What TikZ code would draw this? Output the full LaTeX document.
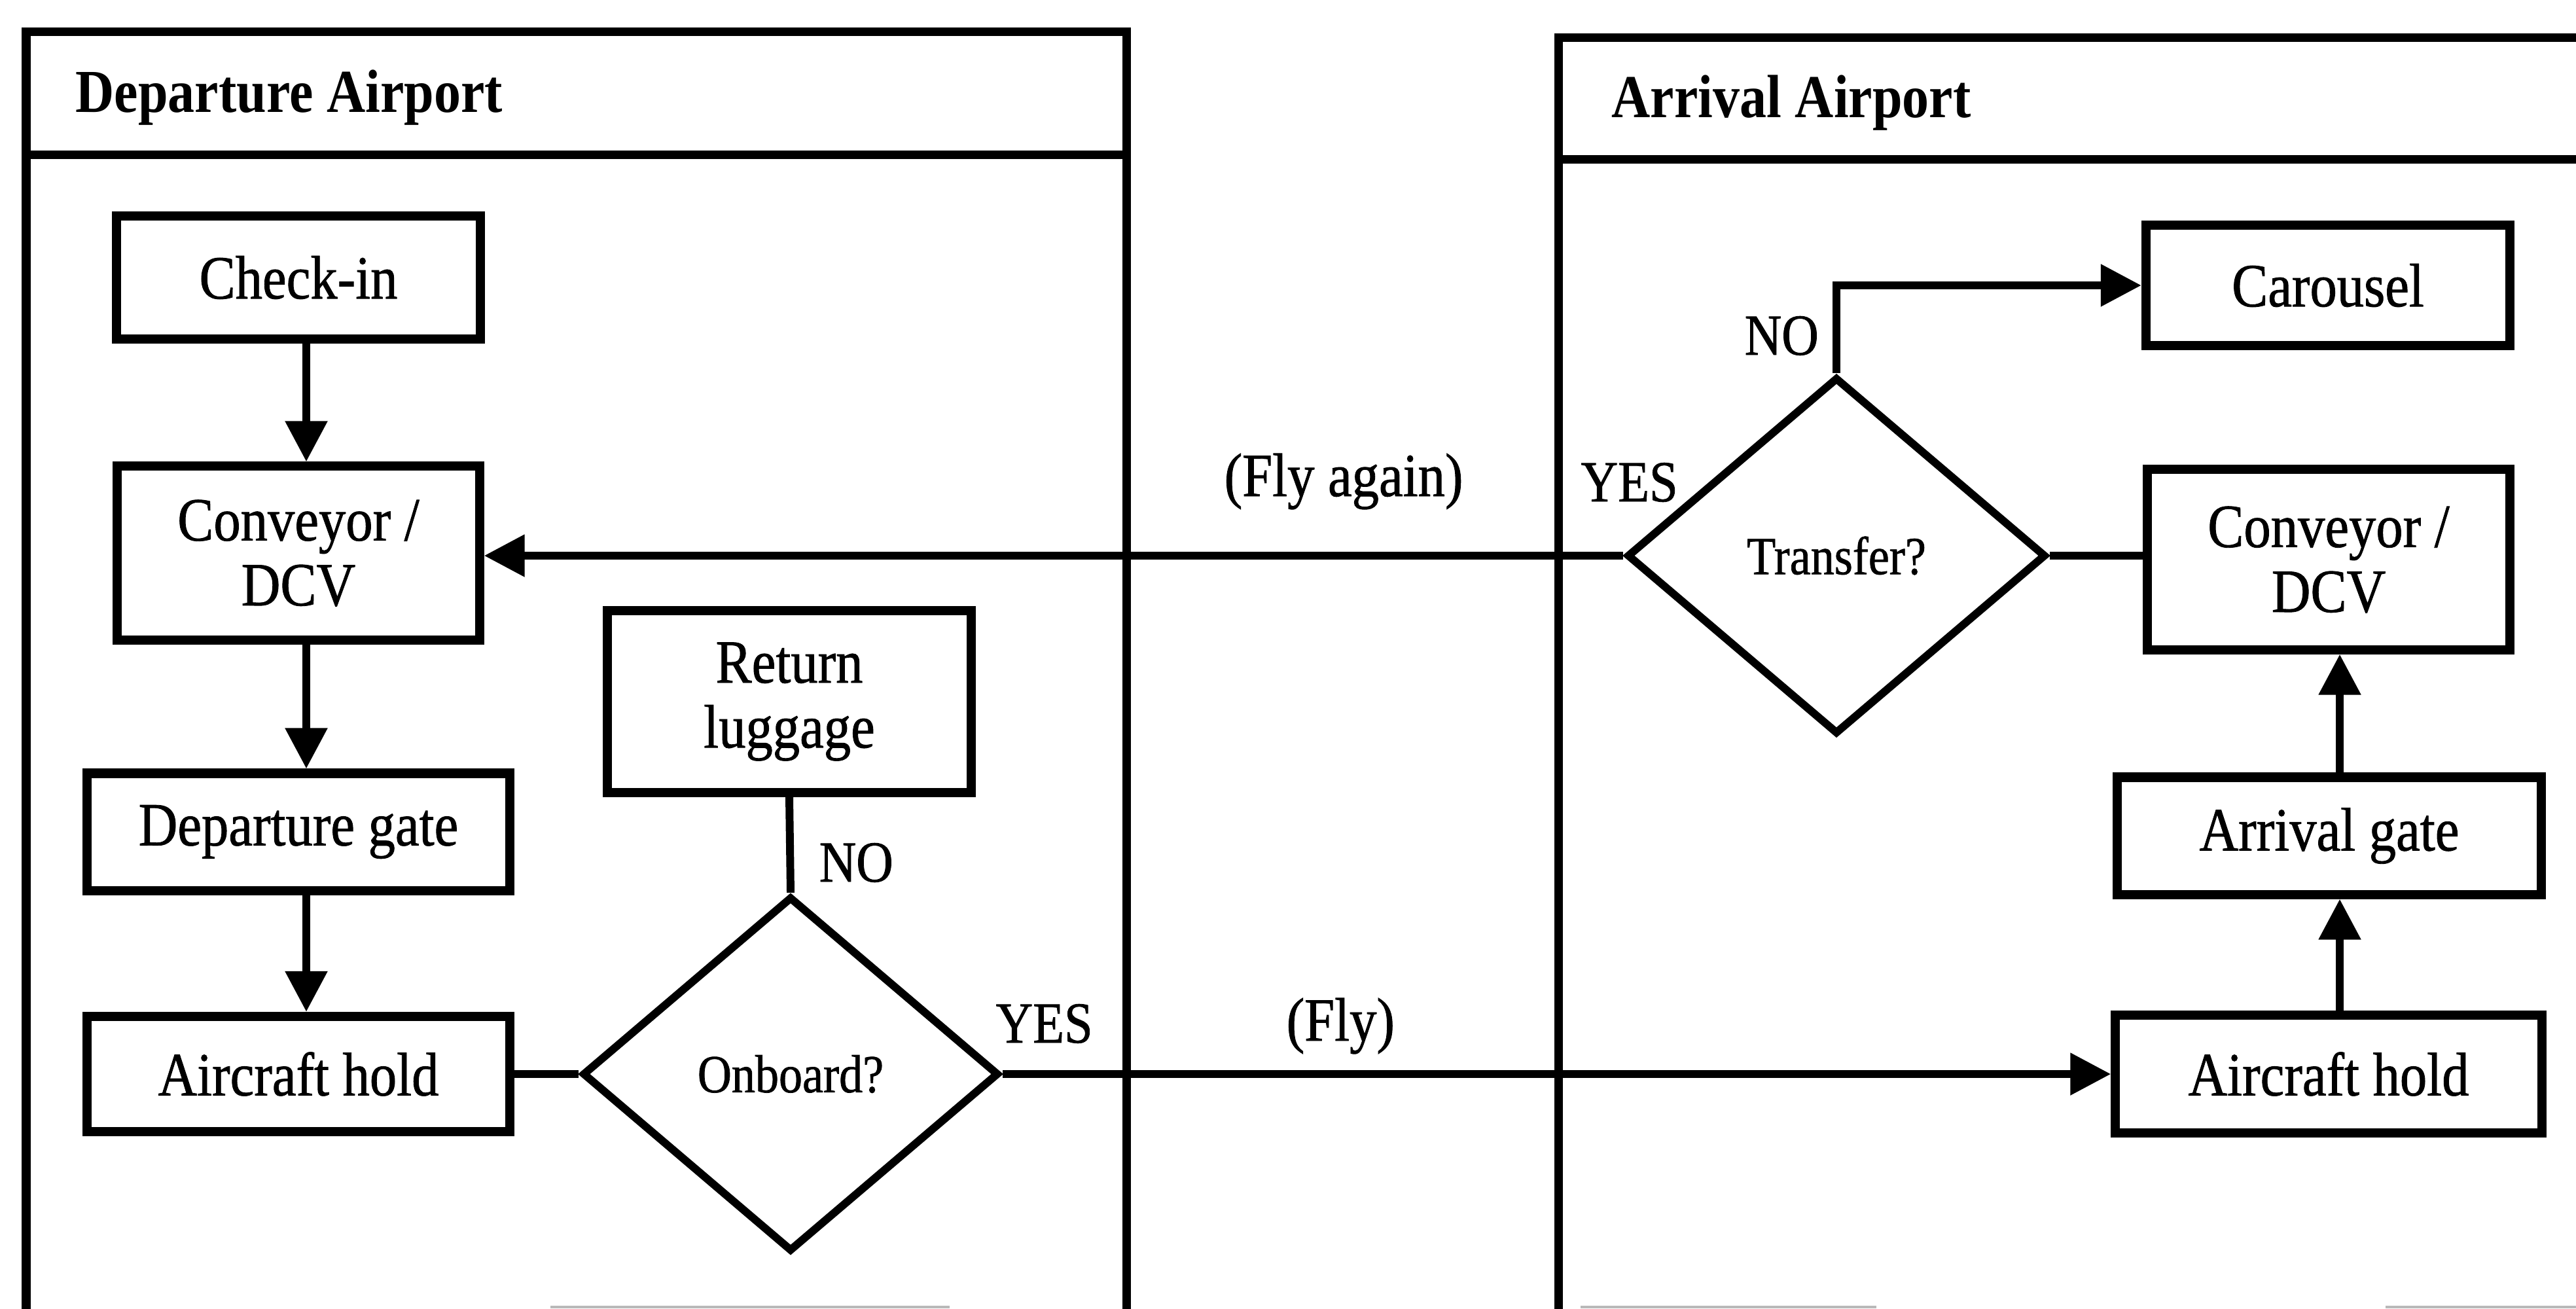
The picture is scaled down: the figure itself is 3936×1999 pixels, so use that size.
\documentclass[tikz,border=0pt]{standalone}
\usepackage{fontspec}
\setmainfont{Liberation Serif}[FakeStretch=0.88, UprightFeatures={FakeBold=0.9}]
\usetikzlibrary{shapes.geometric,arrows.meta}

\begin{document}
\begin{tikzpicture}[x=0.01cm,y=-0.01cm,
  box/.style={draw, line width=4pt, inner sep=0pt, align=center,
    font=\fontsize{26.7}{28.2}\selectfont},
  decision/.style={draw, diamond, line width=3.4pt, inner sep=0pt,
    font=\fontsize{23.3}{25}\selectfont},
  pool/.style={line width=3.7pt},
  flow/.style={line width=3.4pt},
  arr/.style={flow, -{Triangle[length=0.62cm,width=0.62cm]}},
  lbl/.style={inner sep=0pt, anchor=base west, font=\fontsize{25.3}{27}\selectfont},
  flylbl/.style={inner sep=0pt, anchor=base west, font=\fontsize{26.7}{28}\selectfont},
  title/.style={inner sep=0pt, anchor=base west, font=\bfseries\fontsize{26.5}{28}\selectfont},
]
\useasboundingbox (0,0) rectangle (3936,1999);
\clip (0,0) rectangle (3936,1999);

% swimlanes
\draw[pool] (40,2100) -- (40,48) -- (1721,48) -- (1721,2100);
\draw[pool] (40,236) -- (1721,236);
\draw[pool] (2381,2100) -- (2381,57) -- (4000,57);
\draw[pool] (2381,243) -- (4000,243);
\node[title] (deptitle) at (115,171) {Departure Airport};
\node[title] (arrtitle) at (2462,179) {Arrival Airport};

% departure side
\node[box, minimum width=5.55cm, minimum height=1.88cm] (checkin) at (456,424) {Check-in};
\node[box, minimum width=5.53cm, minimum height=2.65cm] (conv1) at (456,845) {Conveyor /\\DCV};
\node[box, minimum width=6.46cm, minimum height=1.79cm] (depgate) at (456,1271) {Departure gate};
\node[box, minimum width=6.46cm, minimum height=1.76cm] (hold1) at (456,1641) {Aircraft hold};
\node[box, minimum width=5.55cm, minimum height=2.77cm] (ret) at (1206,1072) {Return\\luggage};
\node[decision, minimum width=6.36cm, minimum height=5.42cm] (onboard) at (1208,1641) {Onboard?};

% arrival side
\node[box, minimum width=5.56cm, minimum height=1.84cm] (carousel) at (3557,436) {Carousel};
\node[box, minimum width=5.54cm, minimum height=2.75cm] (conv2) at (3558,855) {Conveyor /\\DCV};
\node[box, minimum width=6.48cm, minimum height=1.79cm] (arrgate) at (3559,1277) {Arrival gate};
\node[box, minimum width=6.51cm, minimum height=1.80cm] (hold2) at (3558,1641) {Aircraft hold};
\node[decision, minimum width=6.40cm, minimum height=5.45cm] (transfer) at (2806,849) {Transfer?};

% connector columns
\coordinate (dx) at (468,0);
\coordinate (ax) at (3575,0);

% departure flow
\draw[arr] (checkin.south -| dx) -- (conv1.north -| dx);
\draw[arr] (conv1.south -| dx) -- (depgate.north -| dx);
\draw[arr] (depgate.south -| dx) -- (hold1.north -| dx);
\draw[flow] (hold1.east) -- (onboard.west);
\draw[flow] (ret.south) -- (onboard.north);
\draw[arr] (onboard.east) -- (hold2.west);

% arrival flow
\draw[arr] (hold2.north -| ax) -- (arrgate.south -| ax);
\draw[arr] (arrgate.north -| ax) -- (conv2.south -| ax);
\draw[flow] (transfer.east) -- (conv2.west |- transfer.east);
\draw[arr] (transfer.north) |- (carousel.west);
\draw[arr] (transfer.west) -- (conv1.east |- transfer.west);

% branch labels
\node[lbl] (no1) at (1251,1347) {NO};
\node[lbl] (yes1) at (1521,1593) {YES};
\node[lbl] (no2) at (2665,542) {NO};
\node[lbl] (yes2) at (2415,766) {YES};
\node[flylbl] (fly) at (1965,1590) {(Fly)};
\node[flylbl] (flyagain) at (1870,758) {(Fly again)};

% faint rule fragments along the lower edge
\draw[gray!55, line width=1.3pt] (841,1997) -- (1451,1997);
\draw[gray!55, line width=1.3pt] (2415,1997) -- (2867,1997);
\draw[gray!55, line width=1.3pt] (3645,1997) -- (3936,1997);
\end{tikzpicture}
\end{document}
